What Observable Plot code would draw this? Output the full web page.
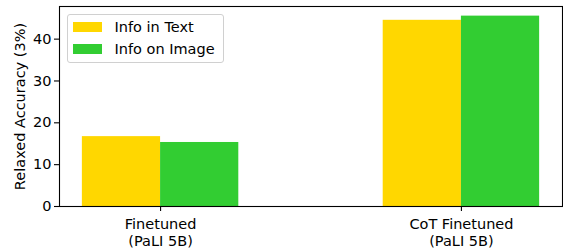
<!DOCTYPE html>
<html>
<head>
<meta charset="utf-8">
<script src="https://cdn.jsdelivr.net/npm/d3@7"></script>
<script src="https://cdn.jsdelivr.net/npm/@observablehq/plot@0.6"></script>
<style>
  html, body { margin: 0; padding: 0; background: white; }
  #wrap { position: relative; width: 563px; height: 250px; font-family: "DejaVu Sans", sans-serif; }
  #legend { position: absolute; left: 66.5px; top: 14px; width: 155px; height: 47px;
    border: 1px solid #d0d0d0; border-radius: 3px; background: rgba(255,255,255,0.8);
    font-size: 14.5px; color: #000; }
  .sw { position: absolute; left: 5.5px; width: 29px; height: 10px; }
  .lb { position: absolute; left: 47px; line-height: normal; white-space: nowrap; }
</style>
</head>
<body>
<div id="wrap"></div>
<script>
const categories = ["Finetuned\n(PaLI 5B)", "CoT Finetuned\n(PaLI 5B)"];
const seriesNames = ["Info in Text", "Info on Image"];
const infoInText = [16.7, 44.5];
const infoOnImage = [15.3, 45.5];
const seriesColors = ["#FFD700", "#32CD32"];
const yTicks = [0, 10, 20, 30, 40];
const yLabel = "Relaxed Accuracy (3%)";

const valuesBySeries = [infoInText, infoOnImage];
const barW = 0.26;
const rows = categories.flatMap((c, i) =>
  seriesNames.map((s, j) => ({
    cat: i, series: s, value: valuesBySeries[j][i],
    x1: i + (j - 1) * barW, x2: i + j * barW
  }))
);

const chart = Plot.plot({
  width: 563, height: 250,
  marginLeft: 59, marginRight: 1, marginTop: 6, marginBottom: 44,
  style: { fontFamily: "DejaVu Sans", fontSize: "14.5px", color: "black", background: "white", overflow: "visible" },
  x: { domain: [-0.336, 1.336] },
  y: { domain: [0, 47.8] },
  color: { domain: seriesNames, range: seriesColors },
  marks: [
    Plot.rectY(rows, { x1: "x1", x2: "x2", y1: 0, y2: "value", fill: "series" }),
    Plot.frame({ stroke: "black", strokeWidth: 1.1 }),
    Plot.axisX({ ticks: [0, 1], tickFormat: i => categories[i], tickSize: 5, tickPadding: 5,
      lineHeight: 1.17, label: null, fontSize: 14.5, stroke: "black", strokeWidth: 1.1 }),
    Plot.axisY({ ticks: yTicks, tickSize: 5, tickPadding: 3, fontSize: 14.5,
      label: yLabel, labelAnchor: "center", labelArrow: "none", labelOffset: 45,
      stroke: "black", strokeWidth: 1.1 })
  ]
});

const wrap = document.getElementById("wrap");
wrap.appendChild(chart);

const color = chart.scale("color");
const legend = document.createElement("div");
legend.id = "legend";
seriesNames.forEach((s, j) => {
  const sw = document.createElement("div");
  sw.className = "sw";
  sw.style.top = (7 + j * 22) + "px";
  sw.style.background = color.apply(s);
  legend.appendChild(sw);
  const lb = document.createElement("div");
  lb.className = "lb";
  lb.style.top = (3.5 + j * 22) + "px";
  lb.textContent = s;
  legend.appendChild(lb);
});
wrap.appendChild(legend);
</script>
</body>
</html>
